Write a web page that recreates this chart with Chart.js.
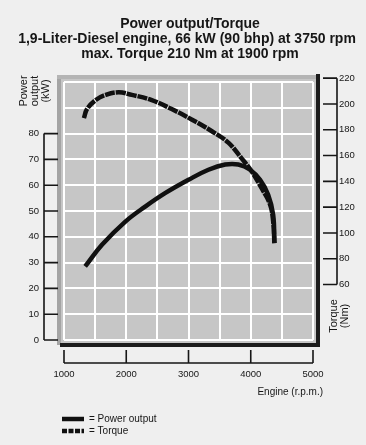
<!DOCTYPE html>
<html>
<head>
<meta charset="utf-8">
<script src="https://cdn.jsdelivr.net/npm/chart.js@4.4.0/dist/chart.umd.min.js"></script>
<style>
  html, body { margin: 0; padding: 0; background: #efefef; }
  #wrap { width: 366px; height: 445px; }
</style>
</head>
<body>
<div id="wrap"><canvas id="chart" width="366" height="445"></canvas></div>
<script>
// values
const titleLines = [
  "Power output/Torque",
  "1,9-Liter-Diesel engine, 66 kW (90 bhp) at 3750 rpm",
  "max. Torque 210 Nm at 1900 rpm"
];
const rpmPower = [1340, 1610, 1990, 2310, 2630, 3000, 3320, 3590, 3800, 3990, 4150, 4280, 4360, 4380];
const power    = [28.5, 36.9, 46.0, 51.8, 57.0, 62.1, 66.0, 68.0, 68.0, 66.0, 62.1, 56.3, 48.5, 37.6];
const rpmTorque = [1320, 1370, 1510, 1670, 1880, 2090, 2410, 2730, 3050, 3370, 3640, 3850, 4010, 4170, 4310, 4360, 4380];
const torque    = [189, 196, 203, 207, 209, 207, 203, 196, 188, 179, 170, 158, 148, 135, 122, 109, 92];
const powerTicks  = [0, 10, 20, 30, 40, 50, 60, 70, 80];
const torqueTicks = [60, 80, 100, 120, 140, 160, 180, 200, 220];
const rpmTicks    = [1000, 2000, 3000, 4000, 5000];
const legendLabels = ["= Power output", "= Torque"];

const FONT = '"Liberation Sans", Arial, sans-serif';
const INK = '#161616';

const toPts = (xs, ys) => xs.map((v, i) => ({ x: v, y: ys[i] }));

// page, title and the gray plot panel with its shaded edges
const panel = {
  id: 'panel',
  beforeDraw(chart) {
    const { ctx, chartArea: a } = chart;
    ctx.save();
    ctx.fillStyle = '#efefef';
    ctx.fillRect(0, 0, chart.width, chart.height);

    ctx.fillStyle = INK;
    ctx.font = 'bold 14px ' + FONT;
    ctx.textAlign = 'center';
    ctx.textBaseline = 'alphabetic';
    ctx.fillText(titleLines[0], 190, 28);
    ctx.fillText(titleLines[1], 187, 43, 350);
    ctx.fillText(titleLines[2], 190, 58);

    ctx.fillStyle = '#a4a4a4';
    ctx.fillRect(a.left - 7, a.top - 7, 5, a.bottom - a.top + 12);
    ctx.fillStyle = '#b4b4b4';
    ctx.fillRect(a.left - 7, a.top - 7, a.right - a.left + 12, 4);
    ctx.fillStyle = '#c6c6c6';
    ctx.fillRect(a.left - 3, a.top - 3, a.right - a.left + 6, a.bottom - a.top + 6);
    ctx.fillStyle = '#1c1c1c';
    ctx.fillRect(a.right + 3, a.top - 8, 4, a.bottom - a.top + 15);
    ctx.fillRect(a.left - 4, a.bottom + 3, a.right - a.left + 11, 4);
    ctx.restore();
  }
};

// axes drawn away from the panel, legend and axis titles
const axes = {
  id: 'axes',
  afterDraw(chart) {
    const { ctx, scales: { x, y, y2 } } = chart;
    ctx.save();
    ctx.strokeStyle = INK;
    ctx.fillStyle = INK;
    ctx.lineWidth = 1.6;
    ctx.font = '9.5px ' + FONT;

    // left (kW)
    const lx = 44;
    ctx.beginPath();
    ctx.moveTo(lx, y.getPixelForValue(powerTicks[0]));
    ctx.lineTo(lx, y.getPixelForValue(powerTicks[powerTicks.length - 1]));
    powerTicks.forEach(v => {
      const p = y.getPixelForValue(v);
      ctx.moveTo(lx, p); ctx.lineTo(lx + 14, p);
    });
    ctx.stroke();
    ctx.textAlign = 'right'; ctx.textBaseline = 'middle';
    powerTicks.forEach(v => ctx.fillText(String(v), lx - 5, y.getPixelForValue(v)));

    // right (Nm)
    const rx = 337;
    ctx.beginPath();
    ctx.moveTo(rx, y2.getPixelForValue(torqueTicks[0]));
    ctx.lineTo(rx, y2.getPixelForValue(torqueTicks[torqueTicks.length - 1]));
    torqueTicks.forEach(v => {
      const p = y2.getPixelForValue(v);
      ctx.moveTo(rx - 14, p); ctx.lineTo(rx, p);
    });
    ctx.stroke();
    ctx.textAlign = 'left';
    torqueTicks.forEach(v => ctx.fillText(String(v), rx + 2, y2.getPixelForValue(v)));

    // bottom (rpm)
    const by = 363;
    ctx.beginPath();
    ctx.moveTo(x.getPixelForValue(rpmTicks[0]), by);
    ctx.lineTo(x.getPixelForValue(rpmTicks[rpmTicks.length - 1]), by);
    rpmTicks.forEach(v => {
      const p = x.getPixelForValue(v);
      ctx.moveTo(p, by - 13); ctx.lineTo(p, by);
    });
    ctx.stroke();
    ctx.textAlign = 'center';
    rpmTicks.forEach(v => ctx.fillText(String(v), x.getPixelForValue(v), by + 11));

    // axis titles
    ctx.font = '10px ' + FONT;
    ctx.textAlign = 'right';
    ctx.fillText('Engine (r.p.m.)', 323, 392);

    ctx.font = '11px ' + FONT;
    ctx.textAlign = 'center';
    [['Power', 23.5], ['output', 34.5], ['(kW)', 45.5]].forEach(([t, cx]) => {
      ctx.save(); ctx.translate(cx, 91); ctx.rotate(-Math.PI / 2); ctx.fillText(t, 0, 0); ctx.restore();
    });
    [['Torque', 334], ['(Nm)', 344.5]].forEach(([t, cx]) => {
      ctx.save(); ctx.translate(cx, 316); ctx.rotate(-Math.PI / 2); ctx.fillText(t, 0, 0); ctx.restore();
    });

    // legend
    ctx.font = '10px ' + FONT;
    ctx.textAlign = 'left';
    chart.data.datasets.forEach((ds, i) => {
      const ly = 419 + i * 12;
      ctx.save();
      ctx.strokeStyle = ds.borderColor;
      ctx.lineWidth = ds.borderWidth;
      ctx.setLineDash(i === 1 ? [5, 1.5] : []);
      ctx.beginPath(); ctx.moveTo(62, ly); ctx.lineTo(84, ly); ctx.stroke();
      ctx.restore();
      ctx.fillText(legendLabels[i], 89, ly);
    });
    ctx.restore();
  }
};

new Chart(document.getElementById('chart'), {
  type: 'scatter',
  data: {
    datasets: [
      {
        label: 'Power output',
        data: toPts(rpmPower, power),
        yAxisID: 'y',
        showLine: true,
        borderColor: '#101010',
        borderWidth: 4.5,
        tension: 0.4,
        pointRadius: 0
      },
      {
        label: 'Torque',
        data: toPts(rpmTorque, torque),
        yAxisID: 'y2',
        showLine: true,
        borderColor: '#101010',
        borderWidth: 4.5,
        borderDash: [10, 1],
        tension: 0.4,
        pointRadius: 0
      }
    ]
  },
  options: {
    responsive: false,
    animation: false,
    layout: { padding: { left: 64, right: 53, top: 82, bottom: 105 } },
    plugins: {
      legend: { display: false },
      tooltip: { enabled: false },
      title: { display: false }
    },
    scales: {
      x: {
        type: 'linear', min: 1000, max: 5000,
        ticks: { display: false, stepSize: 500 },
        grid: { color: '#ffffff', lineWidth: 2, drawTicks: false },
        border: { display: false }
      },
      y: {
        min: 0, max: 100,
        ticks: { display: false, stepSize: 10 },
        grid: { color: '#ffffff', lineWidth: 2, drawTicks: false },
        border: { display: false }
      },
      y2: {
        min: 17, max: 217, display: false
      }
    }
  },
  plugins: [panel, axes]
});
</script>
</body>
</html>
